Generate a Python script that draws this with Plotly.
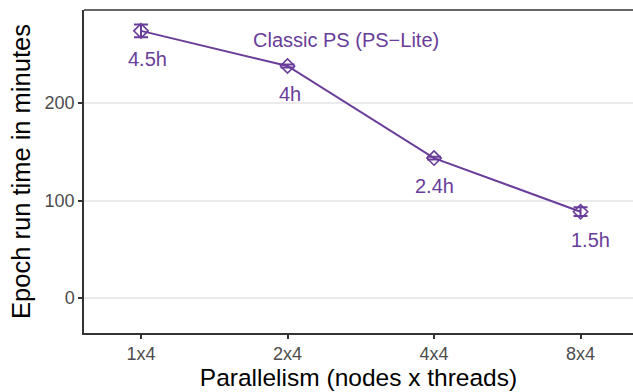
import plotly.graph_objects as go

categories = ["1x4", "2x4", "4x4", "8x4"]
runtime_min = [274, 238, 143.5, 88.5]
runtime_err = [6.5, 1.5, 1.5, 4.5]
hour_labels = ["4.5h", "4h", "2.4h", "1.5h"]
series_name = "Classic PS (PS\u2212Lite)"
y_ticks = [0, 100, 200]

purple = "#6a3d9a"
font_family = "Liberation Sans, Arial, sans-serif"

fig = go.Figure()
fig.add_trace(go.Scatter(
    x=categories, y=runtime_min, mode="lines+markers",
    line=dict(color=purple, width=2),
    marker=dict(symbol="diamond-open", size=11, color=purple, line=dict(width=1.6, color=purple)),
    error_y=dict(type="data", array=runtime_err, visible=True, color=purple, thickness=2, width=7),
    showlegend=False, cliponaxis=False,
))

label_xshift = [6, 2, 0, 10]
for c, v, lab, xs in zip(categories, runtime_min, hour_labels, label_xshift):
    fig.add_annotation(x=c, y=v, text=lab, showarrow=False, yshift=-28, xshift=xs,
                       font=dict(size=20, color=purple, family=font_family))

fig.add_annotation(x=1.4, y=265, xref="x", yref="y", text=series_name, showarrow=False,
                   font=dict(size=20, color=purple, family=font_family))

# top border
fig.add_shape(type="line", xref="paper", yref="paper", x0=0, x1=1, y0=1, y1=1,
              line=dict(color="#333333", width=1.5))

fig.update_layout(
    width=633, height=392,
    margin=dict(l=84, r=0, t=10, b=59),
    plot_bgcolor="white", paper_bgcolor="white",
    font=dict(family=font_family),
    xaxis=dict(
        type="category", range=[-0.389, 3.358], automargin=False,
        showgrid=False, showline=True, linecolor="#333333", linewidth=1.5,
        ticks="outside", ticklen=4, tickcolor="#333333", tickwidth=1.5,
        tickfont=dict(size=18, color="#4d4d4d"),
        title=dict(text="Parallelism (nodes x threads)", font=dict(size=24.5, color="black"), standoff=3),
        zeroline=False,
    ),
    yaxis=dict(
        range=[-35.9, 295.4], tickvals=y_ticks, automargin=False,
        showgrid=True, gridcolor="#ebebeb", gridwidth=1.5,
        showline=True, linecolor="#333333", linewidth=1.5,
        ticks="outside", ticklen=4, tickcolor="#333333", tickwidth=1.5,
        tickfont=dict(size=18, color="#4d4d4d"),
        title=dict(text="Epoch run time in minutes", font=dict(size=25.5, color="black"), standoff=7),
        zeroline=False,
    ),
)

fig.write_html("out.html", config={"displayModeBar": False},
               post_script="document.body.style.margin='0';document.body.style.overflow='hidden';")
